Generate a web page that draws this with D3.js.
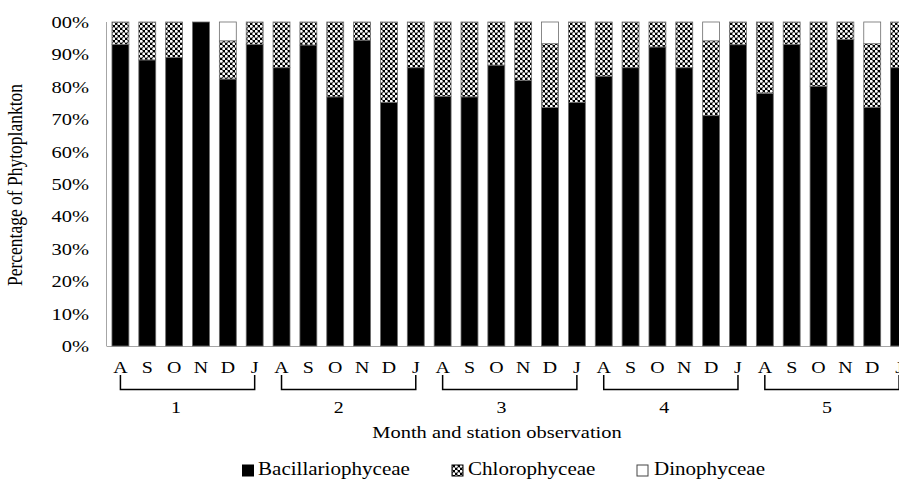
<!DOCTYPE html>
<html>
<head>
<meta charset="utf-8">
<script src="https://cdn.jsdelivr.net/npm/d3@7"></script>
<style>
  body { margin: 0; background: #fff; }
  text { font-family: "Liberation Serif", "Times New Roman", serif; fill: #000; }
</style>
</head>
<body>
<div id="chart"></div>
<script>
// ---------- Data ----------
const months   = ["A", "S", "O", "N", "D", "J"];
const stations = ["1", "2", "3", "4", "5"];
const seriesNames = ["Bacillariophyceae", "Chlorophyceae", "Dinophyceae"];

// percentages per bar (station 1..5, months A..J)
const bacillario = [
  93.1, 88.3, 89.1, 100, 82.4, 93.1,
  85.9, 92.9, 76.9, 94.4, 75.2, 85.9,
  77.1, 76.9, 86.7, 82.0, 73.6, 75.2,
  83.3, 85.9, 92.3, 85.9, 71.1, 93.0,
  78.0, 93.1, 80.2, 94.6, 73.7, 85.9
];
const chloro = [
  6.9, 11.7, 10.9, 0, 11.8, 6.9,
  14.1, 7.1, 23.1, 5.6, 24.8, 14.1,
  22.9, 23.1, 13.3, 18.0, 19.7, 24.8,
  16.7, 14.1, 7.7, 14.1, 23.1, 7.0,
  22.0, 6.9, 19.8, 5.4, 19.6, 14.1
];
const dino = [
  0, 0, 0, 0, 5.8, 0,
  0, 0, 0, 0, 0, 0,
  0, 0, 0, 0, 6.7, 0,
  0, 0, 0, 0, 5.8, 0,
  0, 0, 0, 0, 6.7, 0
];
const yTicks = [0, 10, 20, 30, 40, 50, 60, 70, 80, 90, 100];
const yTickLabels = ["0%", "10%", "20%", "30%", "40%", "50%", "60%", "70%", "80%", "90%", "00%"];

// ---------- Layout ----------
const width = 899, height = 479;
const SX = 1.17;          // the source picture is stretched sideways
const FONT = 17.5;

const svg = d3.select("#chart").append("svg")
  .attr("width", width)
  .attr("height", height);

// dotted fill for Chlorophyceae: white blobs on black
const defs = svg.append("defs");
const pat = defs.append("pattern")
  .attr("id", "dots")
  .attr("patternUnits", "userSpaceOnUse")
  .attr("width", 5)
  .attr("height", 5);
pat.append("rect").attr("width", 5).attr("height", 5).attr("fill", "#000");
[[1.25, 1.25], [3.75, 3.75]].forEach(([px, py]) => {
  pat.append("circle")
    .attr("cx", px).attr("cy", py)
    .attr("r", 1.45)
    .attr("fill", "#fff");
});

const rows = bacillario.map((b, i) => ({
  i,
  month: months[i % 6],
  bac: b, chl: chloro[i], din: dino[i]
}));

// ---------- Scales ----------
const x = d3.scaleBand()
  .domain(d3.range(rows.length))
  .range([107, 912.5])
  .paddingInner(0.37)
  .paddingOuter(0.185);

const y = d3.scaleLinear().domain([0, 100]).range([346, 22]);

const fills = ["#000", "url(#dots)", "#fff"];

// stretched text helper
function sText(parent, tx, ty, str, anchor, size) {
  return parent.append("g")
    .attr("transform", `translate(${tx},${ty}) scale(${SX},1)`)
    .append("text")
    .attr("text-anchor", anchor || "middle")
    .attr("font-size", size || FONT)
    .text(str);
}

// ---------- Axes ----------
svg.append("line")
  .attr("x1", 106.5).attr("x2", 106.5)
  .attr("y1", y(100)).attr("y2", y(0))
  .attr("stroke", "#a6a6a6");
svg.append("line")
  .attr("x1", 106.5).attr("x2", width)
  .attr("y1", y(0) + 0.5).attr("y2", y(0) + 0.5)
  .attr("stroke", "#a6a6a6");

yTicks.forEach((t, k) => {
  sText(svg, 89, y(t) + 6, yTickLabels[k], "end");
});

// ---------- Bars ----------
const stack = d3.stack().keys(["bac", "chl", "din"])(rows);
svg.append("g").selectAll("g")
  .data(stack)
  .join("g")
  .attr("fill", (d, k) => fills[k])
  .selectAll("rect")
  .data(d => d.filter(s => s[1] > s[0]))
  .join("rect")
  .attr("x", d => x(d.data.i))
  .attr("width", x.bandwidth())
  .attr("y", d => y(d[1]))
  .attr("height", d => y(d[0]) - y(d[1]))
  .attr("stroke", "#6b6b6b")
  .attr("stroke-width", 0.8);

// ---------- Category labels ----------
rows.forEach(r => {
  sText(svg, x(r.i) + x.bandwidth() / 2, 373, r.month, "middle", 17);
});

// station brackets
const cx = i => x(i) + x.bandwidth() / 2;
stations.forEach((s, k) => {
  const x0 = cx(k * 6), x1 = cx(k * 6 + 5);
  svg.append("path")
    .attr("d", `M${x0},375 V389.5 H${x1} V375`)
    .attr("fill", "none")
    .attr("stroke", "#000")
    .attr("stroke-width", 1.5);
});

const gx = d3.scalePoint().domain(stations).range([176, 827]);
stations.forEach(s => sText(svg, gx(s), 413, s, "middle", 17));

// axis titles
sText(svg, 497, 438, "Month and station observation", "middle", 17.5);

svg.append("g")
  .attr("transform", `translate(22,185) scale(${SX},1) rotate(-90)`)
  .append("text")
  .attr("text-anchor", "middle")
  .attr("font-size", 17.5)
  .text("Percentage of Phytoplankton");

// ---------- Legend ----------
const legendX = [242.5, 452, 637];
const legendTextX = [258, 468, 654];
seriesNames.forEach((name, k) => {
  svg.append("rect")
    .attr("x", legendX[k]).attr("y", 465)
    .attr("width", 11).attr("height", 11)
    .attr("fill", fills[k])
    .attr("stroke", k === 2 ? "#444" : "#000")
    .attr("stroke-width", 1);
  sText(svg, legendTextX[k], 475, name, "start", 18);
});
</script>
</body>
</html>
